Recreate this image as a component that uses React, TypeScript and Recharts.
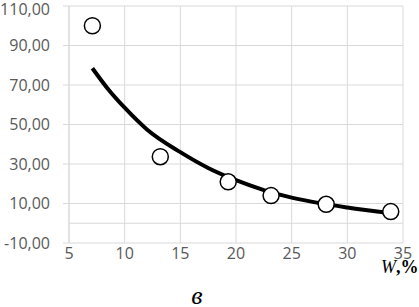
import {
  CartesianGrid,
  ComposedChart,
  Line,
  ReferenceLine,
  Scatter,
  XAxis,
  YAxis,
} from "recharts";

// measured points
const moisture = [7.1, 13.2, 19.3, 23.15, 28.1, 33.9];
const measured = [100, 33.7, 21, 14, 9.6, 5.9];

// trend curve
const trendX = [7.1, 8.5, 10, 12, 15, 17.5, 20, 22.5, 25, 27.5, 30, 33.9];
const trendY = [78.5, 68, 58.5, 47.5, 36, 28, 21.8, 16.8, 13, 10.2, 8, 5.1];

const xTicks = [5, 10, 15, 20, 25, 30, 35];
const yTicks = [-10, 10, 30, 50, 70, 90, 110];

const points = moisture.map((w, i) => ({ w, v: measured[i] }));
const trend = trendX.map((w, i) => ({ w, t: trendY[i] }));

const grid = "#d9d9d9";
const tickStyle = { fill: "#595959", fontSize: 16, fontFamily: "'Open Sans', sans-serif" };

const fmt = (v: number) => v.toFixed(2).replace(".", ",");

export default function App() {
  return (
    <div style={{ position: "relative", width: 419, height: 307, background: "#fff" }}>
      <style>{`body{margin:0}`}</style>
      <ComposedChart
        width={419}
        height={307}
        margin={{ top: 6, right: 16, bottom: 34, left: 0 }}
      >
        <CartesianGrid stroke={grid} horizontalValues={yTicks} verticalValues={xTicks} />
        <XAxis
          type="number"
          dataKey="w"
          domain={[5, 35]}
          ticks={xTicks}
          allowDataOverflow
          axisLine={false}
          tickLine={false}
          tickSize={3}
          tickMargin={2}
          height={30}
          tick={tickStyle}
        />
        <YAxis
          type="number"
          domain={[-10, 110]}
          ticks={yTicks}
          allowDataOverflow
          width={69}
          stroke={grid}
          tickSize={6}
          tickMargin={13}
          tickFormatter={fmt}
          tick={tickStyle}
        />
        <ReferenceLine y={0} stroke={grid} />
        <Scatter
          data={points}
          dataKey="v"
          isAnimationActive={false}
          shape={(p: any) => (
            <circle cx={p.cx} cy={p.cy} r={8} fill="#fff" stroke="#000" strokeWidth={1.5} />
          )}
        />
        <Line
          data={trend}
          dataKey="t"
          type="monotone"
          stroke="#000"
          strokeWidth={4}
          dot={false}
          activeDot={false}
          isAnimationActive={false}
        />
      </ComposedChart>
      <svg
        width={419}
        height={307}
        style={{ position: "absolute", left: 0, top: 0, pointerEvents: "none" }}
      >
        <text x={381} y={273} fontFamily="'Liberation Serif', serif" fontSize={18} fill="#000">
          <tspan fontStyle="italic">W</tspan>
          <tspan fontWeight="bold">,%</tspan>
        </text>
        <text
          x={197}
          y={304}
          textAnchor="middle"
          fontFamily="'Liberation Serif', serif"
          fontStyle="italic"
          fontSize={26}
          fill="#000"
        >
          в
        </text>
      </svg>
    </div>
  );
}
